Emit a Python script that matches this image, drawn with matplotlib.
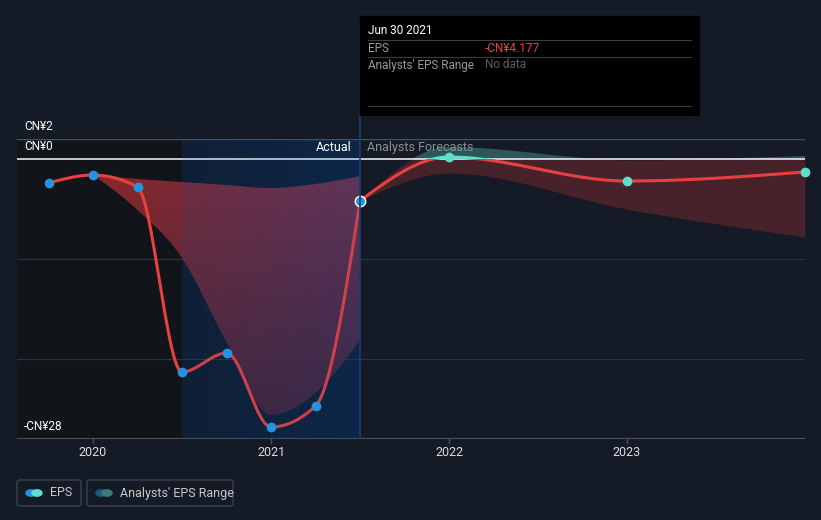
import numpy as np
import matplotlib.pyplot as plt
from matplotlib.patches import Rectangle, FancyBboxPatch, Circle

plt.rcParams['font.family'] = ['Roboto', 'DejaVu Sans']

# EPS actuals (quarter ends, fractional years) and values in CN¥
eps_t = [2019.75, 2020.0, 2020.25, 2020.5, 2020.75, 2021.0, 2021.25, 2021.5]
eps_v = [-2.4, -1.6, -2.8, -21.3, -19.4, -26.8, -24.7, -4.177]

# analyst mean forecast
fc_t = [2021.5, 2022.0, 2023.0, 2024.0]
fc_v = [-4.177, 0.2, -2.2, -1.3]

# analysts' range, past estimates
past_rng_t = [2020.0, 2020.25, 2020.5, 2020.75, 2021.0, 2021.25, 2021.5]
past_hi = [-1.6, -2.0, -2.3, -2.6, -2.9, -2.5, -1.7]
past_lo = [-1.6, -5.1, -9.9, -18.3, -25.6, -23.4, -18.1]

# analysts' range, forecasts
fc_hi = [-4.177, 1.2, -0.1, 0.3]
fc_lo = [-4.177, -1.4, -5.0, -7.8]

yticks = [2, 0, -28]
ytick_labels = ['CN¥2', 'CN¥0', '-CN¥28']
xticks = [2020, 2021, 2022, 2023]

BG = '#151b26'
RED = '#e8403f'
TEAL = '#5ce0cc'
BLUE = '#2394df'


def monotone(xs, ys, n=60):
    # monotone cubic curve (like d3 curveMonotoneX) for drawing only
    xs = np.asarray(xs, float)
    ys = np.asarray(ys, float)
    h = np.diff(xs)
    s = np.diff(ys) / h
    m = np.zeros(len(xs))
    for i in range(1, len(xs) - 1):
        p = (s[i - 1] * h[i] + s[i] * h[i - 1]) / (h[i - 1] + h[i])
        m[i] = (np.sign(s[i - 1]) + np.sign(s[i])) * min(abs(s[i - 1]), abs(s[i]), 0.5 * abs(p))
    m[0] = (3 * s[0] - m[1]) / 2 if len(xs) > 2 else s[0]
    m[-1] = (3 * s[-1] - m[-2]) / 2 if len(xs) > 2 else s[-1]
    ox, oy = [], []
    for i in range(len(xs) - 1):
        t = np.linspace(0, 1, n)
        h00 = 2 * t**3 - 3 * t**2 + 1
        h10 = t**3 - 2 * t**2 + t
        h01 = -2 * t**3 + 3 * t**2
        h11 = t**3 - t**2
        ox.append(xs[i] + t * h[i])
        oy.append(h00 * ys[i] + h10 * h[i] * m[i] + h01 * ys[i + 1] + h11 * h[i] * m[i + 1])
    return np.concatenate(ox), np.concatenate(oy)


W, H = 821, 520
fig = plt.figure(figsize=(W / 100, H / 100), dpi=100, facecolor=BG)


def fx(px):
    return px / W


def fy(py):
    return 1 - py / H


ax = fig.add_axes([fx(17), fy(439), fx(805) - fx(17), (439 - 139) / H])
ax.set_facecolor(BG)
ax.set_xlim(2019.573, 2024.0)
ax.set_ylim(-28, 2)
for sp in ax.spines.values():
    sp.set_visible(False)
ax.set_xticks([])
ax.set_yticks([])

# shaded regions
ax.axvspan(2019.573, 2020.5, color='#111419', zorder=0)
grad = np.linspace(0, 1, 200)
c0 = np.array([15, 26, 42]) / 255
c1 = np.array([12, 34, 64]) / 255
blue_img = (c0 + (c1 - c0) * grad[:, None])[None, :, :]
ax.imshow(blue_img, extent=[2020.5, 2021.5, -28, 2], aspect='auto', zorder=0.5)

# gridlines
for yv in [-10, -20]:
    ax.axhline(yv, color='#2c323c', lw=0.9, zorder=1)
ax.axhline(2, color='#4a4f58', lw=1.0, zorder=1)
ax.axhline(-28, color='#4a4f58', lw=1.5, zorder=1)

# past analysts' range with a gradient fill
bx, bhi = monotone(past_rng_t, past_hi)
_, blo = monotone(past_rng_t, past_lo)
poly = ax.fill_between(bx, blo, bhi, facecolor='none', edgecolor='none')
ny, nx = 100, 100
gx = np.linspace(0, 1, nx)[None, :]
gy = np.linspace(0, 1, ny)[:, None]
tl = np.array([150, 42, 44]); tr = np.array([115, 52, 85])
bl = np.array([80, 32, 40]); br = np.array([60, 38, 68])
img = ((1 - gy)[..., None] * ((1 - gx)[..., None] * tl + gx[..., None] * tr)
       + gy[..., None] * ((1 - gx)[..., None] * bl + gx[..., None] * br)) / 255
rgba = np.concatenate([img, np.full((ny, nx, 1), 0.92)], axis=2)
im = ax.imshow(rgba, extent=[2020.0, 2021.5, -27, -1], aspect='auto', zorder=2)
im.set_clip_path(poly.get_paths()[0], ax.transData)

# forecast range
fx_, fhi = monotone(fc_t, fc_hi)
_, flo = monotone(fc_t, fc_lo)
ax.fill_between(fx_, flo, np.minimum(fhi, 0), color='#4a232b', alpha=0.95, lw=0, zorder=2)
ax.fill_between(fx_, 0, np.maximum(fhi, 0), where=fhi > 0, color='#2f5b5a', alpha=0.95, lw=0, zorder=2)

# zero line
ax.axhline(0, color='#e8e8e8', lw=1.2, zorder=3)

# EPS line
lx, ly = monotone(eps_t, eps_v)
ax.plot(lx, ly, color=RED, lw=2.2, zorder=4, solid_capstyle='round')
# subtle blue overlay for the actual period
ax.add_patch(Rectangle((2020.5, -28), 1.0, 30, color='#1a4a8a', alpha=0.12, zorder=4.5, lw=0))

cx, cy = monotone(fc_t, fc_v)
below = ax.plot(cx, cy, color=RED, lw=2.2, zorder=4)[0]
above = ax.plot(cx, cy, color=TEAL, lw=2.2, zorder=4.1)[0]
below.set_clip_path(Rectangle((2019, -40), 10, 40, transform=ax.transData))
above.set_clip_path(Rectangle((2019, 0), 10, 10, transform=ax.transData))

ax.plot(eps_t[:-1], eps_v[:-1], 'o', color=BLUE, ms=7, mec='none', zorder=6)
ax.plot(eps_t[-1], eps_v[-1], 'o', color=BLUE, ms=7.5, mec='white', mew=1, zorder=6)
ax.plot(fc_t[1:], fc_v[1:], 'o', color=TEAL, ms=7, mec='none', zorder=6, clip_on=False)

# vertical "now" line
fig.add_artist(plt.Line2D([fx(359.5), fx(359.5)], [fy(115), fy(438)], color='#1c3d6b', lw=1.2))

# labels in plot
ax.text(2021.5 - 0.05, 0.5, 'Actual', color='white', fontsize=9, ha='right', va='bottom', zorder=7)
ax.text(2021.5 + 0.04, 0.5, 'Analysts Forecasts', color='#8a8f96', fontsize=9, ha='left', va='bottom', zorder=7)

# y labels
for yv, lab in zip(yticks, ytick_labels):
    ax.text(2019.613, yv + 0.6, lab, color='white', fontsize=8.5, ha='left', va='bottom', zorder=7)

# x ticks
for xv in xticks:
    xp = 93 + (xv - 2020) * 178
    fig.add_artist(plt.Line2D([fx(xp), fx(xp)], [fy(439), fy(443)], color='#4a4f58', lw=1))
    fig.text(fx(xp), fy(452), str(xv), color='#dcdcdc', fontsize=9, ha='center', va='center')

# tooltip
fig.patches.append(Rectangle((fx(360), fy(115)), fx(699) - fx(360), (115 - 16) / H,
                             transform=fig.transFigure, color='black', zorder=10))
for yl in [40, 57, 106]:
    fig.add_artist(plt.Line2D([fx(368), fx(691)], [fy(yl), fy(yl)], color='#3d3d3d', lw=0.8, zorder=11))
fig.text(fx(368), fy(31), 'Jun 30 2021', color='white', fontsize=8.5, va='center', zorder=11)
fig.text(fx(368), fy(48.5), 'EPS', color='#9a9a9a', fontsize=8.5, va='center', zorder=11)
fig.text(fx(485), fy(48.5), '-CN¥4.177', color='#f0403f', fontsize=8.5, va='center', zorder=11)
fig.text(fx(368), fy(65), "Analysts' EPS Range", color='#9a9a9a', fontsize=8.5, va='center', zorder=11)
fig.text(fx(485), fy(65), 'No data', color='#5e5e5e', fontsize=8.5, va='center', zorder=11)

# legend
def legend_box(x0, x1, c1, c2, label):
    fig.patches.append(FancyBboxPatch((fx(x0), fy(506)), fx(x1) - fx(x0), 26 / H,
                                      boxstyle='round,pad=0,rounding_size=0.004',
                                      transform=fig.transFigure, facecolor='none',
                                      edgecolor='#3c424c', lw=1))
    r = 5 / W
    fig.patches.append(Circle((fx(x0 + 14), fy(493)), r, transform=fig.transFigure, color=c1))
    fig.patches.append(Circle((fx(x0 + 20), fy(493)), r, transform=fig.transFigure, color=c2))
    fig.text(fx(x0 + 33), fy(493), label, color='#c8c8c8', fontsize=9, va='center')


legend_box(17, 81, BLUE, TEAL, 'EPS')
legend_box(87, 233, '#1f5a8a', '#3b7d77', "Analysts' EPS Range")

fig.savefig('out.png', dpi=100, facecolor=BG)
